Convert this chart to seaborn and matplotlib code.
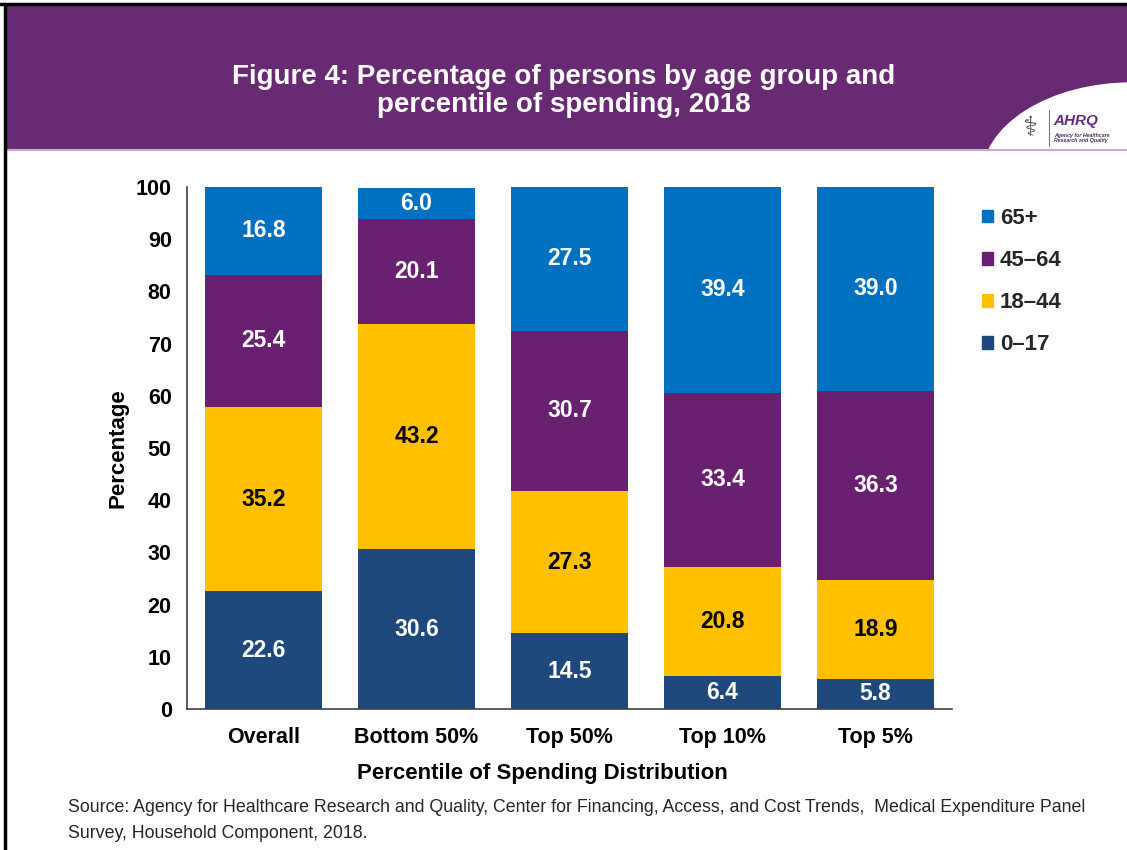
import numpy as np
import pandas as pd
import matplotlib
matplotlib.use('Agg')
import matplotlib.pyplot as plt
import matplotlib.patches as mpatches
from matplotlib.lines import Line2D
import seaborn as sns

# data
groups = ['Overall', 'Bottom 50%', 'Top 50%', 'Top 10%', 'Top 5%']
age_0_17 = [22.6, 30.6, 14.5, 6.4, 5.8]
age_18_44 = [35.2, 43.2, 27.3, 20.8, 18.9]
age_45_64 = [25.4, 20.1, 30.7, 33.4, 36.3]
age_65_plus = [16.8, 6.0, 27.5, 39.4, 39.0]

series_names = ['0\u201317', '18\u201344', '45\u201364', '65+']
series_vals = [age_0_17, age_18_44, age_45_64, age_65_plus]
series_colors = ['#1F497D', '#FFC000', '#6A2070', '#0070C0']
label_colors = ['white', 'black', 'white', 'white']

header_purple = '#682A72'

sns.set_theme(style='white')
plt.rcParams['font.family'] = ['Liberation Sans', 'DejaVu Sans']

fig = plt.figure(figsize=(11.27, 8.5), dpi=100)
W, H = 1127, 850

def fx(px):
    return px / W

def fy(py):
    return 1 - py / H

# header band
header = mpatches.Rectangle((fx(6), fy(149)), 1 - fx(6), fy(6) - fy(149),
                            transform=fig.transFigure, color=header_purple, zorder=0)
fig.patches.append(header)
# thin lighter line under the header
fig.add_artist(Line2D([fx(6), 1], [fy(150), fy(150)], transform=fig.transFigure,
                      color='#C9A6D3', lw=1.5))
# black frame lines (top and left)
fig.add_artist(Line2D([0, 1], [fy(4), fy(4)], transform=fig.transFigure, color='black', lw=2.5))
fig.add_artist(Line2D([fx(5), fx(5)], [fy(4), 0], transform=fig.transFigure, color='black', lw=2.5))

# white logo patch on the right of the header
logo_bg = mpatches.Ellipse((fx(1132), fy(178)), 2 * 150 / W, 2 * 95 / H,
                           transform=fig.transFigure, color='white', zorder=1)
fig.patches.append(logo_bg)
logo_bg.set_clip_path(header)
fig.add_artist(Line2D([fx(1049), fx(1049)], [fy(110), fy(146)], transform=fig.transFigure,
                      color='#777777', lw=0.8))
fig.text(fx(1053), fy(121), 'AHRQ', color='#6A2C82', fontsize=11, fontweight='bold',
         fontstyle='italic', va='center', ha='left')
fig.text(fx(1054), fy(138), 'Agency for Healthcare\nResearch and Quality', color='#4A3060',
         fontsize=3.8, fontweight='bold', fontstyle='italic', va='center', ha='left',
         linespacing=1.1)
fig.text(fx(1030), fy(129), '\u2695', color='#555555', fontsize=20, va='center', ha='center')

fig.text(0.5, fy(91), 'Figure 4: Percentage of persons by age group and\npercentile of spending, 2018',
         color='white', fontsize=20, fontweight='bold', ha='center', va='center',
         linespacing=1.15)

# main axes
ax = fig.add_axes([fx(187), fy(709), fx(952) - fx(187), fy(187) - fy(709)])

df = pd.DataFrame({'group': groups})
for name, vals in zip(series_names, series_vals):
    df[name] = vals

# stacked bars drawn as overlapping cumulative totals, tallest first
cum = df[series_names].cumsum(axis=1)
for i in range(len(series_names) - 1, -1, -1):
    sns.barplot(x=df['group'], y=cum[series_names[i]], color=series_colors[i],
                width=0.77, saturation=1, ax=ax, linewidth=0, order=groups)

# value labels in the middle of each segment
for i, name in enumerate(series_names):
    for j, g in enumerate(groups):
        top = cum.loc[j, name]
        mid = top - df.loc[j, name] / 2
        ax.text(j, mid, f'{df.loc[j, name]:.1f}', ha='center', va='center',
                color=label_colors[i], fontsize=16.5, fontweight='bold')

ax.set_ylim(0, 100)
ax.set_xlim(-0.5, 4.5)
ax.set_yticks(range(0, 101, 10))
ax.tick_params(axis='both', length=0, labelsize=15.5, colors='black')
ax.tick_params(axis='x', pad=13)
ax.tick_params(axis='y', pad=11)
for lab in ax.get_xticklabels() + ax.get_yticklabels():
    lab.set_fontweight('bold')
for side in ['top', 'right']:
    ax.spines[side].set_visible(False)
for side in ['left', 'bottom']:
    ax.spines[side].set_color('#404040')
    ax.spines[side].set_linewidth(1.2)

ax.set_ylabel('Percentage', fontsize=16, fontweight='bold', color='black')
ax.yaxis.set_label_coords((128 - 187) / 765, 0.5)
ax.set_xlabel('Percentile of Spending Distribution', fontsize=16, fontweight='bold', color='black')
ax.xaxis.set_label_coords((542 - 187) / 765, -(763 - 709) / 522)

# legend (65+ on top)
handles = [mpatches.Patch(color=series_colors[i]) for i in range(3, -1, -1)]
labels = [series_names[i] for i in range(3, -1, -1)]
fig.legend(handles, labels, loc='upper left', bbox_to_anchor=(fx(962), fy(188)),
           frameon=False, prop={'size': 16, 'weight': 'bold'},
           handlelength=0.5, handleheight=0.5, handletextpad=0.3, labelspacing=0.95)

fig.text(fx(68), fy(807), 'Source: Agency for Healthcare Research and Quality, Center for Financing, '
         'Access, and Cost Trends,  Medical Expenditure Panel', fontsize=12.75, color='#262626',
         ha='left', va='center')
fig.text(fx(68), fy(833), 'Survey, Household Component, 2018.', fontsize=12.75, color='#262626',
         ha='left', va='center')

fig.savefig('out.png', dpi=100)
